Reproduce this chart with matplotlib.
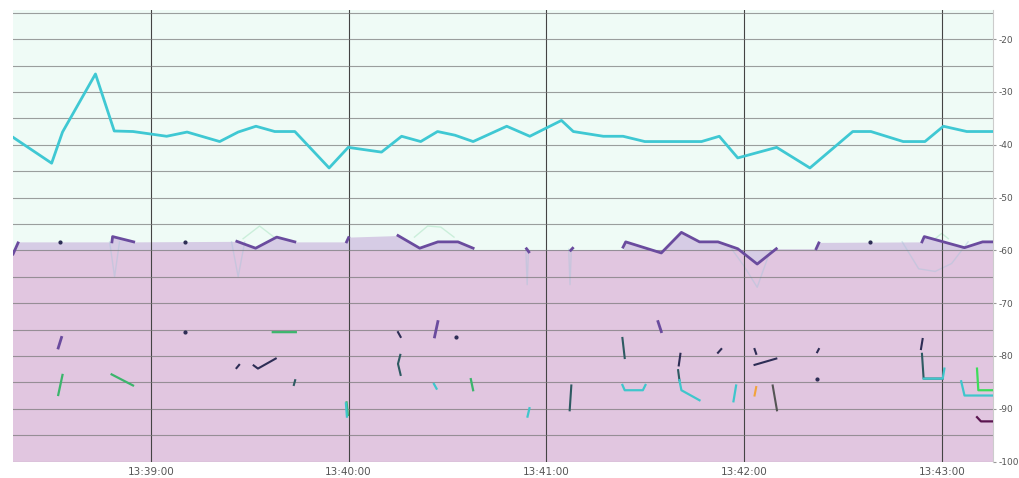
import numpy as np
import matplotlib
matplotlib.use('Agg')
from matplotlib import pyplot as plt

nan = np.nan

# time axis: seconds relative to 13:39:00
tick_pos = [0, 60, 120, 180, 240]
tick_labels = ['13:39:00', '13:40:00', '13:41:00', '13:42:00', '13:43:00']
y_ticks = [-20, -30, -40, -50, -60, -70, -80, -90, -100]

# main network (cyan)
cyan_t = [-41.8, -30.1, -26.8, -16.8, -11.1, -5.4, 4.8, 11.0, 20.9, 26.5, 31.9, 37.6, 43.7,
          54.1, 59.9, 70.0, 76.1, 81.9, 87.0, 92.3, 97.8, 108.0, 115.0, 124.6, 128.2, 137.3,
          143.3, 149.9, 167.1, 172.5, 178.1, 189.9, 200.0, 213.0, 218.5, 228.3, 234.9, 240.5,
          247.6, 255.6]
cyan_v = [-38.6, -43.5, -37.6, -26.6, -37.4, -37.5, -38.4, -37.6, -39.4, -37.6, -36.5, -37.5,
          -37.5, -44.4, -40.5, -41.4, -38.4, -39.4, -37.5, -38.2, -39.4, -36.5, -38.4, -35.4,
          -37.5, -38.4, -38.4, -39.4, -39.4, -38.4, -42.5, -40.5, -44.4, -37.5, -37.5, -39.4,
          -39.4, -36.5, -37.5, -37.5]

# second network (purple) - filled envelope
env_t = [-41.9, -40.3, -11.8, -11.6, -5.2, 26.1, 31.8, 38.2, 43.7, 59.4, 60.0, 75.0, 81.6,
         87.1, 93.2, 97.8, 143.3, 144.1, 154.9, 161.0, 166.5, 172.1, 178.1, 184.0, 189.8,
         201.9, 202.7, 234.0, 234.7, 246.9, 252.4, 255.7]
env_v = [-60.5, -58.4, -58.4, -57.4, -58.4, -58.3, -59.6, -57.5, -58.4, -58.4, -57.5, -57.2,
         -59.6, -58.4, -58.4, -59.9, -59.9, -58.4, -60.5, -56.6, -58.4, -58.4, -59.7, -62.6,
         -59.7, -59.7, -58.5, -58.4, -57.4, -59.5, -58.4, -58.4]

# purple line where it is drawn
purple_t = [-41.8, -40.3, nan, -11.8, -11.6, -5.2, nan, 26.1, 31.8, 38.2, 43.7, nan, 59.4, 60.0,
            nan, 75.0, 81.6, 87.1, 93.2, 97.8, nan, 114.0, 114.7, nan, 127.4, 128.0, nan,
            143.3, 144.1, 154.9, 161.0, 166.5, 172.1, 178.1, 184.0, 189.8, nan, 201.9, 202.7,
            nan, 234.0, 234.7, 246.9, 252.4, 255.5,
            nan, -28.1, -27.1, nan, 87.1, 86.1, nan, 153.9, 154.9]
purple_v = [-60.7, -58.6, nan, -58.4, -57.4, -58.4, nan, -58.3, -59.6, -57.5, -58.4, nan, -58.4,
            -57.6, nan, -57.2, -59.6, -58.4, -58.4, -59.6, nan, -59.7, -60.3, nan, -60.0, -59.6,
            nan, -59.4, -58.4, -60.5, -56.6, -58.4, -58.4, -59.7, -62.6, -59.7, nan, -59.7,
            -58.6, nan, -58.4, -57.4, -59.5, -58.4, -58.4,
            nan, -78.5, -76.5, nan, -73.5, -76.4, nan, -73.5, -75.4]

# faint traces
ghost_t = [-12.5, -11.0, -9.5, nan, 24.5, 26.5, 28.5, nan, 113.8, 114.2, 114.6, nan, 126.8,
           127.2, 127.6, nan, 176, 180, 184, 188, nan, 228, 233, 238, 243, 248]
ghost_v = [-58.4, -65.0, -58.4, nan, -58.4, -65.0, -58.4, nan, -59.8, -66.5, -59.8, nan, -59.8,
           -66.5, -59.8, nan, -59.5, -63.0, -67.0, -60.0, nan, -58.4, -63.5, -64.0, -62.5, -58.4]
ghost_g_t = [28, 33, 38, nan, 80, 84, 88, 92, nan, 238, 240, 242]
ghost_g_v = [-57.8, -55.4, -57.8, nan, -57.5, -55.4, -55.6, -57.5, nan, -57.8, -56.8, -57.8]

# weaker networks, broken traces
green_t = [-28.1, -26.8, nan, -11.9, -5.4, nan, 37.0, 44.0, nan, 97.1, 97.8, nan, 59.4, 59.8]
green_v = [-87.4, -83.6, nan, -83.5, -85.6, nan, -75.5, -75.5, nan, -84.4, -86.5, nan, -88.8, -91.2]

navy_t = [26.0, 26.8, nan, 31.2, 32.5, 37.9, nan, 75.0, 75.8, nan, 160.7, 160.2, nan, 172.1,
          173.1, nan, 183.2, 183.7, nan, 183.2, 189.8, nan, 202.2, 202.7, nan, 234.2, 233.7]
navy_v = [-82.3, -81.7, nan, -81.8, -82.4, -80.5, nan, -75.5, -76.4, nan, -79.6, -81.8, nan,
          -79.4, -78.7, nan, -78.7, -79.6, nan, -81.7, -80.5, nan, -79.3, -78.7, nan, -76.8, -78.7]
dot_t = [-27.6, 10.5, 218.3, 10.5, 92.5, 202.2]
dot_v = [-58.4, -58.4, -58.4, -75.5, -76.4, -84.3]

dteal_t = [75.7, 75.0, 75.8, nan, 143.1, 143.8, nan, 127.6, 127.1, nan, 43.4, 43.8, nan,
           160.0, 160.4, nan, 234.0, 234.5, 240.3]
dteal_v = [-79.8, -81.5, -83.6, nan, -76.6, -80.4, nan, -85.6, -90.3, nan, -85.5, -84.6, nan,
           -82.7, -84.6, nan, -79.6, -84.3, -84.3]
gray_t = [188.7, 190.0]
gray_v = [-85.6, -90.3]

teal_t = [85.9, 86.7, nan, 114.9, 114.3, nan, 143.1, 143.8, 149.3, 150.1, nan, 160.4, 161.0,
          166.5, nan, 177.6, 176.8, nan, 234.5, 240.3, 240.8, nan, 245.9, 246.9, 250.9, 255.5,
          nan, 59.2, 59.5]
teal_v = [-85.3, -86.2, nan, -89.9, -91.5, nan, -85.5, -86.5, -86.5, -85.5, nan, -84.6, -86.5,
          -88.4, nan, -85.6, -88.6, nan, -84.3, -84.3, -82.4, nan, -84.8, -87.5, -87.5, -87.5,
          nan, -89.0, -91.5]

orange_t = [183.7, 183.2]
orange_v = [-85.9, -87.5]
lime_t = [250.7, 251.1, 255.5]
lime_v = [-82.4, -86.5, -86.5]
maroon_t = [250.7, 251.9, 255.5]
maroon_v = [-91.6, -92.4, -92.4]

fig = plt.figure(figsize=(10.2, 4.78), dpi=100)
ax = fig.add_axes([0.0125, 0.0345, 0.9615, 0.9455])
ax.set_facecolor('#effbf6')
x0, x1 = -41.9, 255.7

# backgrounds
ax.fill_between([x0, x1], -100, -60, color='#e1c6e0', lw=0, zorder=1)
ax.fill_between(env_t, -60, env_v, color='#d6cce5', lw=0, zorder=1.1, interpolate=True)

ax.plot(ghost_t, ghost_v, color='#a9c4da', lw=1.0, alpha=0.45, zorder=1.3)
ax.plot(ghost_g_t, ghost_g_v, color='#9fe0b8', lw=1.0, alpha=0.45, zorder=1.3)

ax.plot(cyan_t, cyan_v, color='#3fc8d3', lw=2.0, zorder=3)
ax.plot(purple_t, purple_v, color='#6a4b9e', lw=2.0, zorder=3)
ax.plot(green_t, green_v, color='#3bb56c', lw=1.6, zorder=3)
ax.plot(navy_t, navy_v, color='#2d2d55', lw=1.5, zorder=3)
ax.plot(dteal_t, dteal_v, color='#2e5a62', lw=1.5, zorder=3)
ax.plot(gray_t, gray_v, color='#555555', lw=1.5, zorder=3)
ax.plot(teal_t, teal_v, color='#3fc6cc', lw=1.6, zorder=3.1)
ax.plot(orange_t, orange_v, color='#f2a33a', lw=1.5, zorder=3)
ax.plot(lime_t, lime_v, color='#3ddc5a', lw=1.6, zorder=3)
ax.plot(maroon_t, maroon_v, color='#5b1650', lw=1.6, zorder=3)
ax.scatter(dot_t, dot_v, s=4, color='#2d2d55', zorder=3)

ax.set_xlim(x0, x1)
ax.set_ylim(-100, -14.4)

ax.set_xticks(tick_pos)
ax.set_xticklabels(tick_labels)
ax.yaxis.tick_right()
ax.set_yticks(y_ticks)
ax.set_yticklabels([str(v) for v in y_ticks])
ax.set_yticks(np.arange(-95, -14, 10), minor=True)
ax.tick_params(axis='x', length=0, labelsize=7.5, labelcolor='#555555', pad=4)
ax.tick_params(axis='y', which='major', length=2.5, color='#999999', labelsize=6.5,
               labelcolor='#555555', pad=1)
ax.tick_params(axis='y', which='minor', length=0)

ax.set_axisbelow('line')
ax.grid(axis='y', which='both', color='#777777', lw=0.8, alpha=0.7)
ax.grid(axis='x', which='major', color='#444444', lw=0.8)

for s in ['left', 'top', 'bottom']:
    ax.spines[s].set_visible(False)
ax.spines['right'].set_color('#cccccc')
ax.spines['right'].set_linewidth(0.8)

fig.savefig('out.png', dpi=100, facecolor='white')
